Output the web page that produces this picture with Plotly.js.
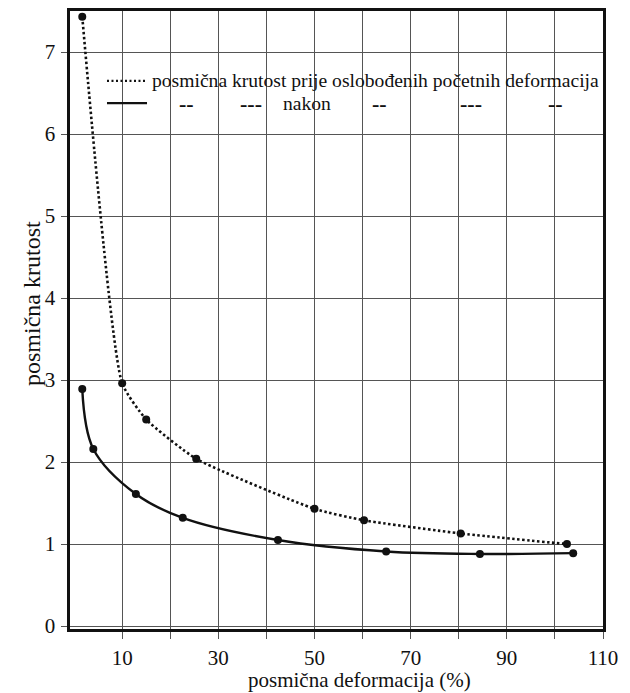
<!DOCTYPE html>
<html>
<head>
<meta charset="utf-8">
<script src="https://cdn.plot.ly/plotly-3.0.1.min.js"></script>
<style>html,body{margin:0;padding:0;background:#fff;}#chart{width:630px;height:693px;}</style>
</head>
<body>
<div id="chart"></div>
<script>
// Data
const prijeX = [1.7, 10, 15.0, 25.4, 50.0, 60.3, 80.4, 102.5];
const prijeY = [7.43, 2.96, 2.52, 2.04, 1.43, 1.29, 1.13, 1.00];
const nakonX = [1.7, 4.0, 12.85, 22.6, 42.4, 64.9, 84.4, 103.8];
const nakonY = [2.89, 2.16, 1.61, 1.32, 1.05, 0.91, 0.88, 0.89];

const xTickVals = [10, 20, 30, 40, 50, 60, 70, 80, 90, 100, 110];
const xTickText = ['10', '', '30', '', '50', '', '70', '', '90', '', '110'];
const yTickVals = [0, 1, 2, 3, 4, 5, 6, 7];
const yTickText = ['0', '1', '2', '3', '4', '5', '6', '7'];

const seriesPrije = 'posmična krutost prije oslobođenih početnih deformacija';
const seriesNakon = 'nakon';
const xTitle = 'posmična deformacija (%)';
const yTitle = 'posmična krutost';

const FONT = 'Liberation Serif';

const traces = [
  {
    x: prijeX, y: prijeY, name: seriesPrije, type: 'scatter', mode: 'lines+markers',
    line: {color: '#111', width: 2.6, dash: '2.5px,2.5px', shape: 'spline', smoothing: 0.5},
    marker: {color: '#111', size: 8}
  },
  {
    x: nakonX, y: nakonY, name: seriesNakon, type: 'scatter', mode: 'lines+markers',
    line: {color: '#111', width: 2.4, shape: 'spline', smoothing: 1},
    marker: {color: '#111', size: 8}
  }
];

const lineY1 = 0.887, lineY2 = 0.851;
const annotations = [
  {xref: 'paper', yref: 'paper', x: 0.150, y: lineY1, xanchor: 'left', yanchor: 'middle',
   text: seriesPrije, showarrow: false, font: {family: FONT, size: 19.6, color: '#111'}},
  {xref: 'paper', yref: 'paper', x: 0.4447, y: lineY2, xanchor: 'center', yanchor: 'middle',
   text: seriesNakon, showarrow: false, font: {family: FONT, size: 19.6, color: '#111'}},
  // axis titles
  {xref: 'paper', yref: 'paper', x: 0.544, y: -0.0825, xanchor: 'center', yanchor: 'middle',
   text: xTitle, showarrow: false, font: {family: FONT, size: 21, color: '#111'}},
  {xref: 'paper', yref: 'paper', x: -0.0713, y: 0.5275, xanchor: 'center', yanchor: 'middle',
   text: yTitle, textangle: -90, showarrow: false, font: {family: FONT, size: 24, color: '#111'}}
];
const dittoX = [0.2195, 0.3396, 0.5816, 0.7523, 0.910];
const dittoT = ['--', '---', '--', '---', '--'];
dittoX.forEach((xx, i) => annotations.push({
  xref: 'paper', yref: 'paper', x: xx, y: lineY2, xanchor: 'center', yanchor: 'middle',
  text: '<b>' + dittoT[i] + '</b>', showarrow: false, font: {family: FONT, size: 22, color: '#111'}
}));

const shapes = [
  {type: 'line', xref: 'paper', yref: 'paper', x0: 0.0694, x1: 0.1445, y0: lineY1, y1: lineY1,
   line: {color: '#111', width: 2.4, dash: '2px,2.5px'}},
  {type: 'line', xref: 'paper', yref: 'paper', x0: 0.0694, x1: 0.1445, y0: lineY2, y1: lineY2,
   line: {color: '#111', width: 2.4}}
];

const layout = {
  width: 630, height: 693,
  margin: {l: 70, r: 27, t: 11, b: 64},
  paper_bgcolor: '#fff', plot_bgcolor: '#fff',
  showlegend: false,
  font: {family: FONT, color: '#111', size: 21},
  xaxis: {
    range: [-0.85, 110], tickmode: 'array', tickvals: xTickVals, ticktext: xTickText,
    showgrid: true, gridcolor: '#555', gridwidth: 1, zeroline: false,
    showline: true, linecolor: '#111', linewidth: 2.6, mirror: true,
    ticks: 'outside', ticklen: 7, tickwidth: 1, tickcolor: '#555',
    tickfont: {family: FONT, size: 21, color: '#111'}, ticklabelstandoff: 1
  },
  yaxis: {
    range: [-0.035, 7.5], tickmode: 'array', tickvals: yTickVals, ticktext: yTickText,
    showgrid: true, gridcolor: '#555', gridwidth: 1, zeroline: false,
    showline: true, linecolor: '#111', linewidth: 2.6, mirror: true,
    ticks: 'outside', ticklen: 6, tickwidth: 1, tickcolor: '#555',
    tickfont: {family: FONT, size: 21, color: '#111'}, ticklabelstandoff: 2
  },
  annotations: annotations,
  shapes: shapes
};

Plotly.newPlot('chart', traces, layout, {displayModeBar: false, staticPlot: true});
</script>
</body>
</html>
